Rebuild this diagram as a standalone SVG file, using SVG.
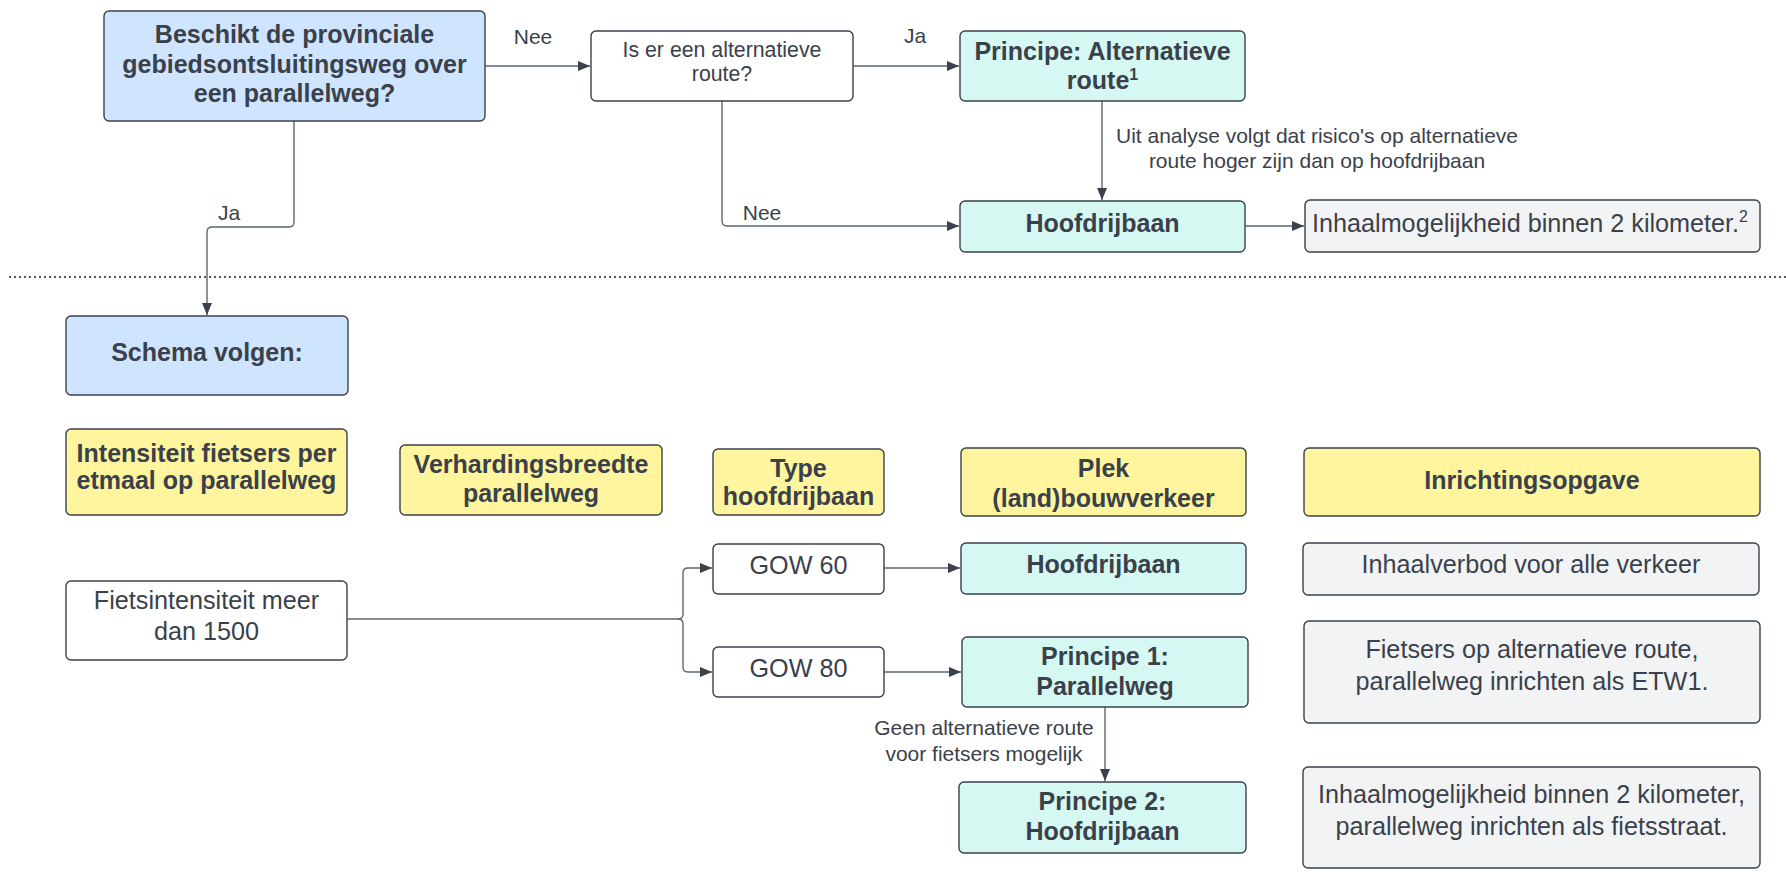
<svg xmlns="http://www.w3.org/2000/svg" width="1786" height="875" viewBox="0 0 1786 875">
  <style>
    .box { stroke: #3a414a; stroke-width: 1.4; }
    .blue { fill: #cfe4ff; }
    .cyan { fill: #d6f8f2; }
    .yellow { fill: #fff59e; }
    .grey { fill: #f2f3f5; }
    .white { fill: #ffffff; }
    text { font-family: "Liberation Sans", Arial, sans-serif; fill: #3a414a; text-anchor: middle; }
    .b { font-weight: bold; font-size: 25px; }
    .n { font-size: 25.2px; }
    .s { font-size: 21.3px; }
    .lbl { font-size: 21px; }
    .conn { fill: none; stroke: #5e6670; stroke-width: 1.4; }
  </style>
  <defs>
    <marker id="arrow" viewBox="0 0 12 10" refX="12" refY="5" markerWidth="12" markerHeight="10" markerUnits="userSpaceOnUse" orient="auto">
      <path d="M0,0 L12,5 L0,10 Z" fill="#3a414a"/>
    </marker>
  </defs>

  <rect width="1786" height="875" fill="#ffffff"/>

  <!-- separator between the two parts -->
  <line x1="9" y1="277" x2="1786" y2="277" stroke="#222" stroke-width="1.6" stroke-dasharray="2 3"/>

  <!-- connectors -->
  <g id="connectors">
    <path class="conn" d="M485,66 H590" marker-end="url(#arrow)"/>
    <text class="lbl" x="533" y="44">Nee</text>

    <path class="conn" d="M853,66 H959" marker-end="url(#arrow)"/>
    <text class="lbl" x="915" y="43">Ja</text>

    <path class="conn" d="M722,101 V221 Q722,226 727,226 H959" marker-end="url(#arrow)"/>
    <text class="lbl" x="762" y="220">Nee</text>

    <path class="conn" d="M1102,101 V200" marker-end="url(#arrow)"/>
    <text class="lbl" x="1317" y="143">Uit analyse volgt dat risico's op alternatieve</text>
    <text class="lbl" x="1317" y="168">route hoger zijn dan op hoofdrijbaan</text>

    <path class="conn" d="M1245,226 H1304" marker-end="url(#arrow)"/>

    <path class="conn" d="M294,121 V222 Q294,227 289,227 H212 Q207,227 207,232 V315" marker-end="url(#arrow)"/>
    <text class="lbl" x="229" y="220">Ja</text>

    <path class="conn" d="M347,619 H678 Q683,619 683,614 V573 Q683,568 688,568 H712" marker-end="url(#arrow)"/>
    <path class="conn" d="M678,619 Q683,619 683,624 V667 Q683,672 688,672 H712" marker-end="url(#arrow)"/>

    <path class="conn" d="M884,568 H960" marker-end="url(#arrow)"/>
    <path class="conn" d="M884,672 H961" marker-end="url(#arrow)"/>

    <path class="conn" d="M1105,707 V781" marker-end="url(#arrow)"/>
    <text class="lbl" x="984" y="735">Geen alternatieve route</text>
    <text class="lbl" x="984" y="761">voor fietsers mogelijk</text>
  </g>

  <!-- top part -->
  <g id="vraag-parallelweg">
    <rect class="box blue" x="104" y="11" width="381" height="110" rx="5"/>
    <text class="b" x="294.5" y="43">Beschikt de provinciale</text>
    <text class="b" x="294.5" y="73">gebiedsontsluitingsweg over</text>
    <text class="b" x="294.5" y="102">een parallelweg?</text>
  </g>
  <g id="vraag-alternatief">
    <rect class="box white" x="591" y="31" width="262" height="70" rx="5"/>
    <text class="s" x="722" y="57">Is er een alternatieve</text>
    <text class="s" x="722" y="81">route?</text>
  </g>
  <g id="principe-alternatief">
    <rect class="box cyan" x="960" y="31" width="285" height="70" rx="5"/>
    <text class="b" x="1102.5" y="60">Principe: Alternatieve</text>
    <text class="b" x="1102.5" y="89">route<tspan font-size="16" dy="-9">1</tspan></text>
  </g>
  <g id="hoofdrijbaan-boven">
    <rect class="box cyan" x="960" y="201" width="285" height="51" rx="5"/>
    <text class="b" x="1102.5" y="232">Hoofdrijbaan</text>
  </g>
  <g id="inhaal-boven">
    <rect class="box grey" x="1305" y="200" width="455" height="52" rx="5"/>
    <text class="n" x="1530" y="232">Inhaalmogelijkheid binnen 2 kilometer.<tspan font-size="16" dy="-10">2</tspan></text>
  </g>

  <!-- schema -->
  <g id="schema-volgen">
    <rect class="box blue" x="66" y="316" width="282" height="79" rx="5"/>
    <text class="b" x="207" y="361">Schema volgen:</text>
  </g>

  <g id="kop-intensiteit">
    <rect class="box yellow" x="66" y="429" width="281" height="86" rx="5"/>
    <text class="b" x="206.5" y="462">Intensiteit fietsers per</text>
    <text class="b" x="206.5" y="489">etmaal op parallelweg</text>
  </g>
  <g id="kop-verharding">
    <rect class="box yellow" x="400" y="445" width="262" height="70" rx="5"/>
    <text class="b" x="531" y="473">Verhardingsbreedte</text>
    <text class="b" x="531" y="502">parallelweg</text>
  </g>
  <g id="kop-type">
    <rect class="box yellow" x="713" y="449" width="171" height="66" rx="5"/>
    <text class="b" x="798.5" y="477">Type</text>
    <text class="b" x="798.5" y="505">hoofdrijbaan</text>
  </g>
  <g id="kop-plek">
    <rect class="box yellow" x="961" y="448" width="285" height="68" rx="5"/>
    <text class="b" x="1103.5" y="477">Plek</text>
    <text class="b" x="1103.5" y="507">(land)bouwverkeer</text>
  </g>
  <g id="kop-inrichting">
    <rect class="box yellow" x="1304" y="448" width="456" height="68" rx="5"/>
    <text class="b" x="1532" y="489">Inrichtingsopgave</text>
  </g>

  <g id="fietsintensiteit">
    <rect class="box white" x="66" y="581" width="281" height="79" rx="5"/>
    <text class="n" x="206.5" y="609">Fietsintensiteit meer</text>
    <text class="n" x="206.5" y="640">dan 1500</text>
  </g>
  <g id="gow60">
    <rect class="box white" x="713" y="544" width="171" height="50" rx="5"/>
    <text class="n" x="798.5" y="574">GOW 60</text>
  </g>
  <g id="gow80">
    <rect class="box white" x="713" y="647" width="171" height="50" rx="5"/>
    <text class="n" x="798.5" y="677">GOW 80</text>
  </g>
  <g id="hoofdrijbaan-gow60">
    <rect class="box cyan" x="961" y="543" width="285" height="51" rx="5"/>
    <text class="b" x="1103.5" y="573">Hoofdrijbaan</text>
  </g>
  <g id="principe-1">
    <rect class="box cyan" x="962" y="637" width="286" height="70" rx="5"/>
    <text class="b" x="1105" y="665">Principe 1:</text>
    <text class="b" x="1105" y="695">Parallelweg</text>
  </g>
  <g id="principe-2">
    <rect class="box cyan" x="959" y="782" width="287" height="71" rx="5"/>
    <text class="b" x="1102.5" y="810">Principe 2:</text>
    <text class="b" x="1102.5" y="840">Hoofdrijbaan</text>
  </g>
  <g id="inhaalverbod">
    <rect class="box grey" x="1303" y="543" width="456" height="52" rx="5"/>
    <text class="n" x="1531" y="573">Inhaalverbod voor alle verkeer</text>
  </g>
  <g id="fietsers-alternatief">
    <rect class="box grey" x="1304" y="621" width="456" height="102" rx="5"/>
    <text class="n" x="1532" y="658">Fietsers op alternatieve route,</text>
    <text class="n" x="1532" y="690">parallelweg inrichten als ETW1.</text>
  </g>
  <g id="inhaal-fietsstraat">
    <rect class="box grey" x="1303" y="767" width="457" height="101" rx="5"/>
    <text class="n" x="1531.5" y="803">Inhaalmogelijkheid binnen 2 kilometer,</text>
    <text class="n" x="1531.5" y="835">parallelweg inrichten als fietsstraat.</text>
  </g>
</svg>
